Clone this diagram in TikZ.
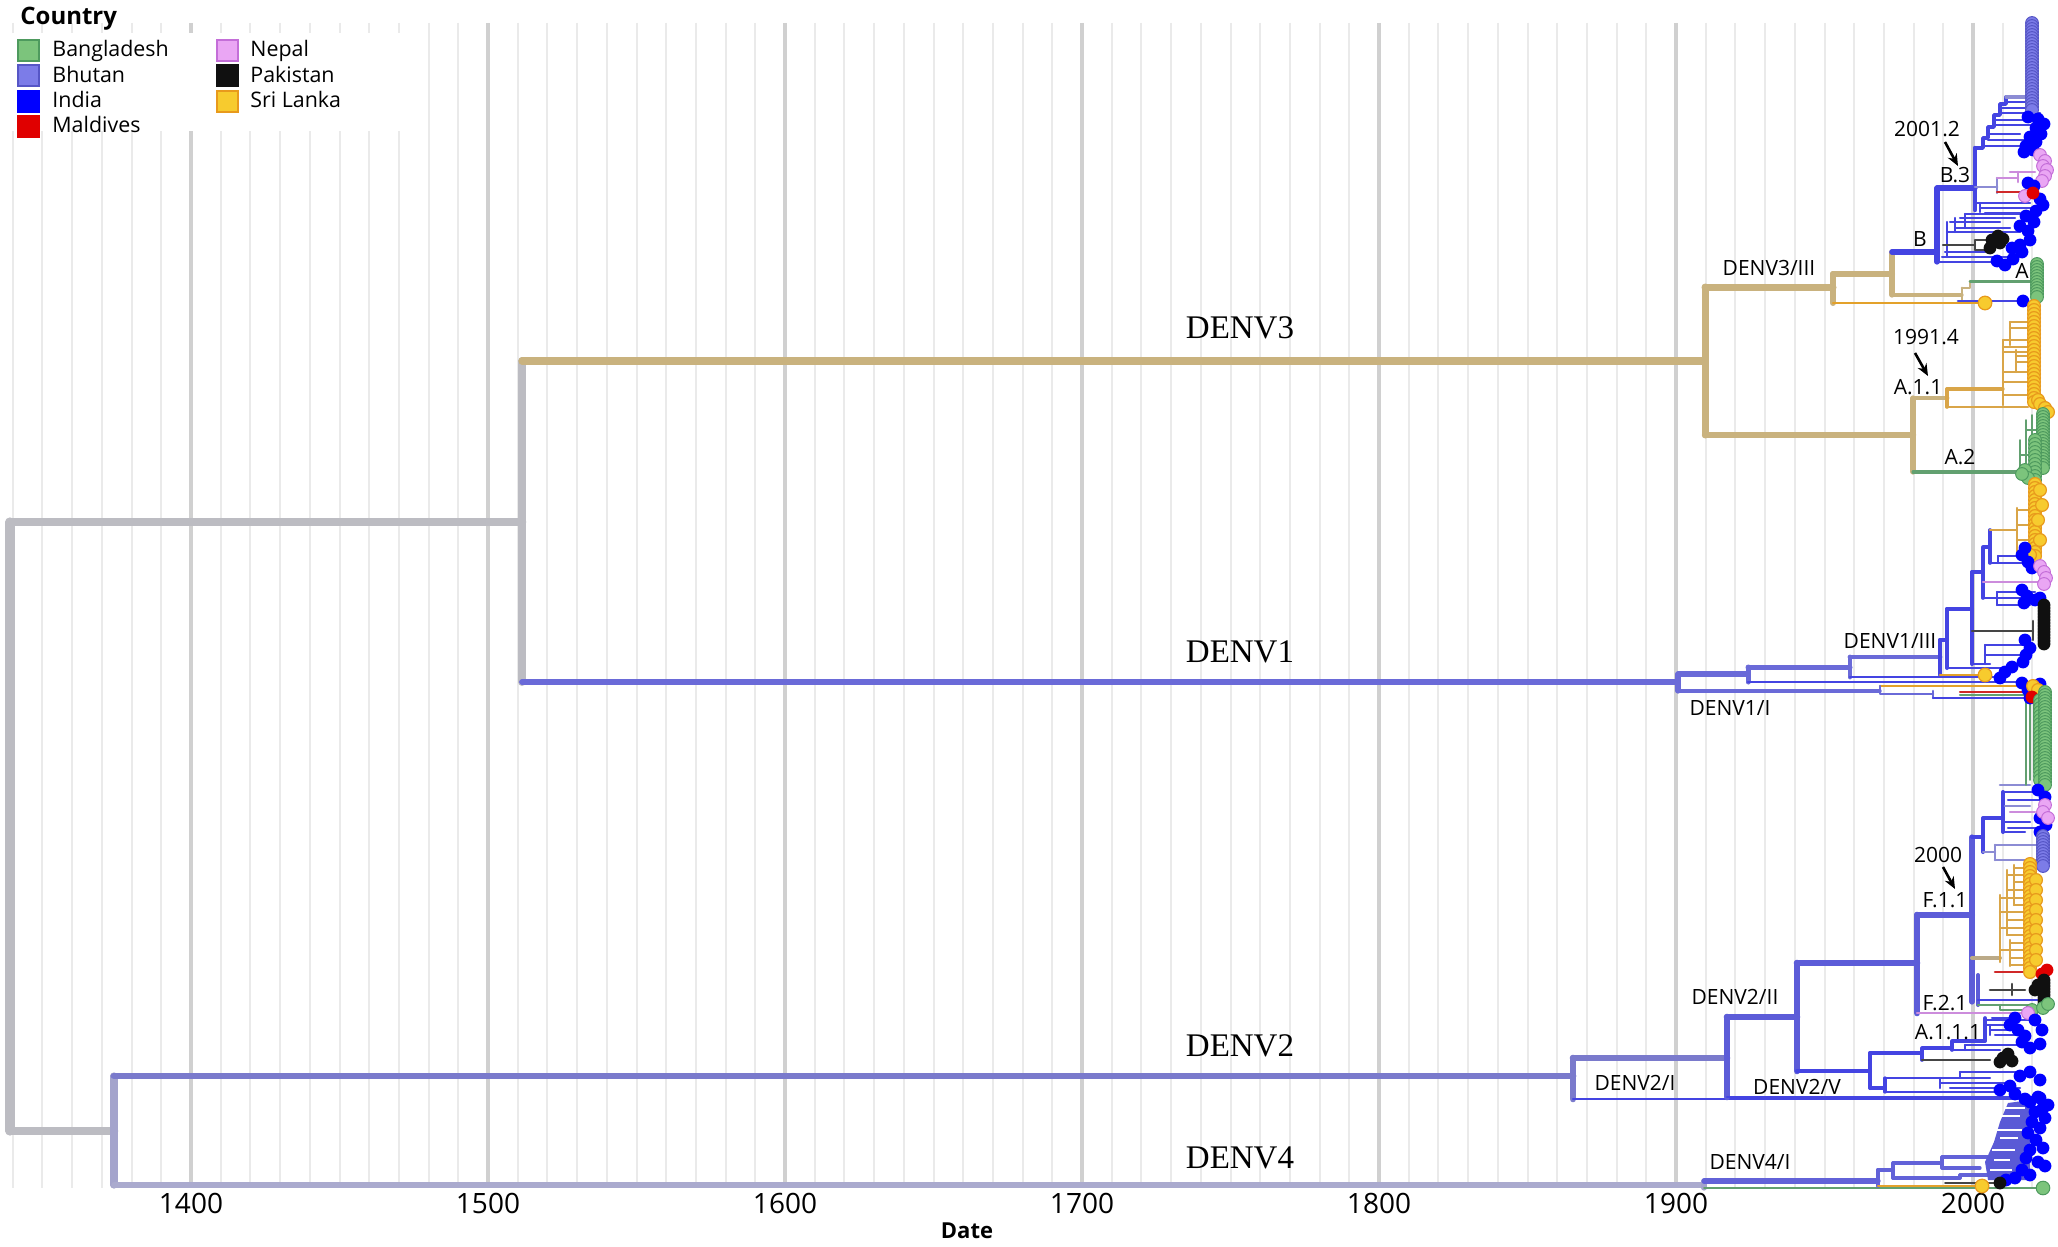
\documentclass[tikz,border=0pt]{standalone}
\usepackage{fontspec}
\setmainfont{Open Sans}
\newfontfamily\serifd{Liberation Serif}
\usetikzlibrary{arrows.meta}
\definecolor{gridmaj}{HTML}{D0D0D0}
\definecolor{gridmin}{HTML}{EAEAEA}
\definecolor{rootgray}{HTML}{BCBCC2}
\definecolor{tanc}{HTML}{C9B27E}
\definecolor{d1c}{HTML}{6A6AD8}
\definecolor{d2c}{HTML}{7A7ACC}
\definecolor{d2t}{HTML}{5C5CD8}
\definecolor{d4c}{HTML}{AAAACE}
\definecolor{d4n}{HTML}{A4A4CC}
\definecolor{d4b}{HTML}{6262D8}
\definecolor{blu}{HTML}{4444E2}
\definecolor{ind}{HTML}{0000FF}
\definecolor{bhu}{HTML}{7C7CE8}
\definecolor{bhuD}{HTML}{5656C6}
\definecolor{lavln}{HTML}{8C8CD4}
\definecolor{ban}{HTML}{7CC47C}
\definecolor{banD}{HTML}{4E9A5E}
\definecolor{grnln}{HTML}{62A070}
\definecolor{nep}{HTML}{EAA6F4}
\definecolor{nepD}{HTML}{C46ED8}
\definecolor{pinkln}{HTML}{CC8CDC}
\definecolor{pak}{HTML}{101010}
\definecolor{pakln}{HTML}{454545}
\definecolor{sri}{HTML}{F7CB2E}
\definecolor{sriD}{HTML}{E89A1C}
\definecolor{sriln}{HTML}{D9A548}
\definecolor{orng}{HTML}{E3A12A}
\definecolor{mal}{HTML}{E00000}
\definecolor{redln}{HTML}{D02828}
\definecolor{tangray}{HTML}{BBAA88}
\definecolor{dense}{HTML}{5A5AD6}
\newcommand\tipset[2]{\foreach \xx/\yy in {#2} {\path[#1] (\xx,\yy) circle[radius=3.2pt];}}
\newcommand\tipcol[3]{\foreach \yy in {#3} {\path[#1] (#2,\yy) circle[radius=3.2pt];}}
\newcommand\hlines[2]{\foreach \aa/\bb/\yy in {#2} {\draw[#1] (\aa,\yy) -- (\bb,\yy);}}
\newcommand\vlines[2]{\foreach \xx/\aa/\bb in {#2} {\draw[#1] (\xx,\aa) -- (\xx,\bb);}}
\begin{document}
\begin{tikzpicture}[x=0.5pt,y=-0.5pt,
  brn/.style={line cap=round,line join=round},
  ti/.style={brn,draw=blu,line width=1.1pt},
  ts/.style={brn,draw=sriln,line width=1.2pt},
  tg/.style={brn,draw=grnln,line width=0.9pt},
  tl/.style={brn,draw=lavln,line width=1.3pt},
  tI/.style={fill=ind},
  tB/.style={fill=bhu,draw=bhuD,line width=0.5pt},
  tG/.style={fill=ban,draw=banD,line width=0.5pt},
  tN/.style={fill=nep,draw=nepD,line width=0.5pt},
  tK/.style={fill=pak},
  tS/.style={fill=sri,draw=sriD,line width=0.6pt},
  tM/.style={fill=mal},
  gmin/.style={draw=gridmin,line width=1pt},
  gmaj/.style={draw=gridmaj,line width=1.6pt},
  sl/.style={font=\fontsize{10.5}{12}\selectfont,inner sep=0pt},
  bigl/.style={font=\serifd\fontsize{16.5}{18}\selectfont,inner sep=0pt},
  axl/.style={font=\fontsize{14}{16}\selectfont,inner sep=0pt},
  arr/.style={-{Stealth[length=6pt,width=5pt]},line width=1.3pt},
  lsq/.style={minimum size=10.5pt,inner sep=0pt,line width=1pt},
  ltx/.style={font=\fontsize{10.7}{12}\selectfont,inner sep=0pt,anchor=base west}]
\useasboundingbox (0,0) rectangle (2058,1247);
\fill[white] (0,0) rectangle (2058,1247);
% ---------- grid ----------
\foreach \yr in {1340,1350,...,2020} {\draw[gmin] ({1676+(\yr-1900)*2.97},23) -- ({1676+(\yr-1900)*2.97},1188);}
\foreach \yr in {1400,1500,...,2000} {\draw[gmaj] ({1676+(\yr-1900)*2.97},23) -- ({1676+(\yr-1900)*2.97},1188);}
\fill[white] (0,33) rectangle (410,131);
\foreach \yr in {1400,1500,...,2000} {\node[axl] (t\yr) at ({1676+(\yr-1900)*2.97},1203) {\yr};}
\node[font=\bfseries\fontsize{11}{13}\selectfont,inner sep=0pt] (date) at (967,1231) {Date};
% ---------- backbone ----------
\coordinate (R) at (10,826);
\coordinate (N13) at (522,522);
\coordinate (N24) at (114,1131);
\coordinate (D3) at (1705,361);
\coordinate (D1) at (1678,682);
\coordinate (D2) at (1573,1076);
\coordinate (D4) at (1704,1185);
\draw[brn,rootgray,line width=4.6pt] (R |- N13) -- (R |- N24);
\draw[brn,rootgray,line width=4.3pt] (R |- N13) -- (N13);
\draw[brn,rootgray,line width=4.3pt] (R |- N24) -- (N24);
\draw[brn,rootgray,line width=4pt] (N13 |- D3) -- (N13 |- D1);
\draw[brn,tanc,line width=3.6pt] (N13 |- D3) -- (D3);
\draw[brn,d1c,line width=2.9pt] (N13 |- D1) -- (D1);
\draw[brn,d4n,line width=3.6pt] (N24 |- D2) -- (N24 |- D4);
\draw[brn,d2c,line width=3.4pt] (N24 |- D2) -- (D2);
\draw[brn,d4c,line width=2.9pt] (N24 |- D4) -- (D4);
% ---------- DENV3 ----------
\coordinate (D3a) at (1833,287);
\coordinate (D3b) at (1913,435);
\coordinate (D3c) at (1892,274);
\coordinate (Y1) at (1985,303);
\coordinate (Bn) at (1937,252);
\coordinate (D3d) at (1962,295);
\coordinate (B3) at (1975,188);
\coordinate (A11) at (1947,398);
\coordinate (A2) at (2020,472);
\draw[brn,tanc,line width=3.5pt] (D3 |- D3a) -- (D3 |- D3b);
\draw[brn,tanc,line width=3.5pt] (D3 |- D3a) -- (D3a);
\draw[brn,tanc,line width=3.2pt] (D3 |- D3b) -- (D3b);
\draw[brn,tanc,line width=3pt] (D3a |- D3c) -- (D3a |- Y1);
\draw[brn,tanc,line width=3pt] (D3a |- D3c) -- (D3c);
\draw[brn,orng,line width=1.3pt] (D3a |- Y1) -- (Y1);
\draw[brn,tanc,line width=2.6pt] (D3c |- Bn) -- (D3c |- D3d);
\draw[brn,blu,line width=2.8pt] (D3c |- Bn) -- (Bn);
\draw[brn,tanc,line width=1.6pt] (D3c |- D3d) -- (D3d);
\draw[brn,tanc,line width=1.4pt] (1962,288) -- (1962,300);
\draw[brn,tanc,line width=1.3pt] (1962,288) -- (1970,288) -- (1970,281);
\draw[brn,grnln,line width=1.5pt] (1970,281) -- (2037,281);
\draw[brn,blu,line width=1.3pt] (1958,301) -- (2023,301);
% B clade
\draw[brn,blu,line width=2.6pt] (Bn |- B3) -- (1937,262);
\draw[brn,blu,line width=2.6pt] (Bn |- B3) -- (B3);
\draw[brn,blu,line width=2.2pt] (1975,148) -- (1975,210);
\draw[brn,blu,line width=1.8pt] (1975,148) -- (1983,148) -- (1983,138) -- (1988,138) -- (1988,127) -- (1994,127) -- (1994,115) -- (2000,115) -- (2000,104) -- (2006,104) -- (2006,97);
\draw[brn,lavln,line width=1.6pt] (2006,97) -- (2030,97);
\hlines{ti}{1983/2025/146, 1988/2030/140, 1988/2020/134, 1994/2035/125, 1994/2028/120, 2000/2040/113, 2000/2030/108, 2006/2025/102}
\draw[brn,lavln,line width=1.4pt] (1975,187) -- (1997,187);
\draw[brn,lavln,line width=1.2pt] (1997,178) -- (1997,193);
\draw[brn,pinkln,line width=1.3pt] (1997,178) -- (2018,178) (2010,172) -- (2035,172) (2018,172) -- (2018,182);
\draw[brn,redln,line width=1.2pt] (1997,192) -- (2030,192);
\hlines{ti}{1975/2030/203, 1980/2035/208, 1985/2020/213, 1937/2000/262, 1942/2010/257, 1945/1985/252, 1947/2020/232, 1955/2010/228, 1950/2000/222, 1960/2015/218, 1965/2025/214}
\vlines{ti}{1947/222/257, 1955/218/232, 1965/214/228, 1980/203/212}
\draw[brn,pakln,line width=1.2pt] (1943,245) -- (1975,245) (1975,240) -- (1975,250) (1975,240) -- (1990,240) (1975,250) -- (1988,250);
% A.1.1 and A.2
\draw[brn,tanc,line width=2.6pt] (D3b |- A11) -- (D3b |- A2);
\draw[brn,tanc,line width=2.4pt] (D3b |- A11) -- (A11);
\draw[brn,grnln,line width=1.6pt] (D3b |- A2) -- (A2);
\draw[brn,sriln,line width=1.8pt] (1947,389) -- (1947,407);
\draw[brn,sriln,line width=1.6pt] (1947,389) -- (2003,389);
\draw[brn,sriln,line width=1.4pt] (1947,407) -- (2028,407);
\vlines{ts}{2003/340/405, 2010/322/345, 2016/350/372}
\hlines{ts}{2010/2030/322, 2010/2032/328, 2003/2030/340, 2003/2030/347, 2003/2030/352, 2016/2034/356, 2016/2032/362, 2003/2032/372, 2003/2030/382, 2003/2030/395}
\vlines{tg}{2020/440/478, 2026/420/470, 2032/415/450}
\hlines{tg}{2020/2035/455, 2026/2040/430}
% ---------- DENV1 ----------
\coordinate (D1a) at (1748,674);
\coordinate (D1I) at (1880,691);
\coordinate (D1b) at (1850,667);
\coordinate (D1III) at (1940,657);
\coordinate (D1c) at (1947,640);
\coordinate (D1d) at (1972,609);
\draw[brn,d1c,line width=2.6pt] (D1 |- D1a) -- (D1 |- D1I);
\draw[brn,d1c,line width=2.6pt] (D1 |- D1a) -- (D1a);
\draw[brn,d1c,line width=1.7pt] (D1 |- D1I) -- (D1I);
\draw[brn,d1c,line width=2.5pt] (D1a |- D1b) -- (1748,682);
\draw[brn,d1c,line width=2.5pt] (D1a |- D1b) -- (D1b);
\draw[ti] (1748,682) -- (2030,682);
\draw[brn,d1c,line width=2.4pt] (D1b |- D1III) -- (1850,677);
\draw[brn,d1c,line width=2.4pt] (D1b |- D1III) -- (D1III);
\draw[ti] (1850,677) -- (2000,677);
\draw[brn,blu,line width=2pt] (D1III |- D1c) -- (1940,675);
\draw[brn,blu,line width=2pt] (D1III |- D1c) -- (D1c);
\draw[brn,orng,line width=1.3pt] (1940,675) -- (1985,675);
\draw[brn,blu,line width=2pt] (D1c |- D1d) -- (1947,668);
\draw[brn,blu,line width=2pt] (D1c |- D1d) -- (D1d);
\draw[ti] (1947,668) -- (2010,668);
\draw[brn,blu,line width=2pt] (1972,572) -- (1972,664);
\draw[brn,blu,line width=1.8pt] (1972,572) -- (1983,572) (1983,547) -- (1983,598) (1983,547) -- (1990,547) (1990,530) -- (1990,563);
\draw[ts] (1990,530) -- (2017,530);
\vlines{ts}{2017/508/552}
\hlines{ts}{2017/2030/510, 2017/2032/525, 2017/2030/540, 2017/2030/552}
\hlines{ti}{1990/2025/563, 1998/2030/556, 1983/2022/598, 1997/2035/592, 1997/2030/605, 1972/1990/664, 1985/2025/645, 1985/2028/655}
\vlines{ti}{1997/592/605, 1985/645/664, 1998/556/563}
\draw[brn,pinkln,line width=1.3pt] (1983,582) -- (2040,582);
\draw[brn,pakln,line width=1.3pt] (1972,631) -- (2033,631) (2033,621) -- (2033,640);
\draw[brn,orng,line width=1.2pt] (1880,686) -- (2025,686);
\draw[brn,d1c,line width=1.3pt] (1880,686) -- (1880,694) -- (1933,694) (1933,691) -- (1933,698);
\draw[brn,redln,line width=1.1pt] (1960,692) -- (2025,692);
\draw[brn,grnln,line width=1.1pt] (1960,695) -- (2025,695);
\draw[ti] (1933,698) -- (2025,698);
% ---------- DENV2 ----------
\coordinate (D2a) at (1727,1058);
\coordinate (D2b) at (1797,1017);
\coordinate (D2c) at (1917,963);
\coordinate (D2d) at (1870,1071);
\coordinate (F11) at (1972,915);
\draw[brn,d2c,line width=3.3pt] (D2 |- D2a) -- (1573,1099);
\draw[brn,d2c,line width=3.3pt] (D2 |- D2a) -- (D2a);
\draw[brn,blu,line width=1.2pt] (1573,1099) -- (2025,1099);
\draw[brn,d2t,line width=3.3pt] (D2a |- D2b) -- (1727,1097);
\draw[brn,d2t,line width=3.3pt] (D2a |- D2b) -- (D2b);
\draw[brn,blu,line width=1.2pt] (1727,1097) -- (2022,1097);
\draw[brn,d2t,line width=3.3pt] (D2b |- D2c) -- (D2b |- D2d);
\draw[brn,d2t,line width=3.3pt] (D2b |- D2c) -- (D2c);
\draw[brn,blu,line width=2pt] (D2b |- D2d) -- (D2d);
\draw[brn,d2t,line width=3.3pt] (D2c |- F11) -- (1917,1013);
\draw[brn,d2t,line width=3pt] (D2c |- F11) -- (F11);
\draw[brn,pinkln,line width=1.2pt] (1917,1013) -- (2028,1013);
\draw[brn,d2t,line width=2.6pt] (1972,837) -- (1972,1002);
\draw[brn,d2t,line width=2pt] (1978,975) -- (1978,1005);
\draw[brn,blu,line width=2pt] (1972,837) -- (1983,837) (1983,818) -- (1983,852) (1983,818) -- (2003,818) (2003,792) -- (2003,832);
\hlines{ti}{2003/2035/792, 2008/2040/800, 2003/2030/822, 2008/2038/828, 2003/2025/832}
\draw[tl] (2000,785) -- (2030,785) (2005,806) -- (2030,806);
\draw[brn,pinkln,line width=1.2pt] (2010,812) -- (2035,812);
\vlines{tg}{2026/700/785, 2030/695/780, 2034/705/770, 2038/715/760}
\draw[tl] (1983,852) -- (1995,852) (1995,845) -- (1995,860);
\hlines{tl}{1995/2040/845, 1995/2040/860}
\draw[brn,tangray,line width=2pt] (1972,958) -- (2000,958);
\vlines{ts}{2000/895/962, 2007/870/935, 2014/865/905, 2010/940/966}
\hlines{ts}{2014/2028/868, 2007/2028/875, 2014/2030/882, 2007/2030/890, 2000/2030/898, 2014/2030/905, 2000/2028/912, 2007/2030/920, 2000/2030/928, 2007/2030/935, 2010/2030/943, 2000/2030/950, 2010/2030/958, 2010/2030/965}
\draw[brn,redln,line width=1.3pt] (1995,972) -- (2035,972);
\draw[brn,pakln,line width=1.3pt] (1990,990) -- (2025,990) (2012,984) -- (2012,995);
\draw[ti] (1978,1000) -- (2045,1000);
\draw[brn,grnln,line width=1.2pt] (1978,1005) -- (2030,1005) (2000,1005) -- (2000,1010) -- (2030,1010);
\draw[brn,blu,line width=2pt] (1870,1053) -- (1870,1088);
\draw[brn,blu,line width=1.8pt] (1870,1053) -- (1922,1053) (1922,1048) -- (1922,1060) (1922,1048) -- (1952,1048) (1952,1041) -- (1952,1050) (1952,1041) -- (1985,1041) (1985,1018) -- (1985,1041);
\hlines{ti}{1985/2010/1025, 1990/2015/1030, 1995/2030/1035, 1952/2000/1050, 1965/2035/1045, 1985/2040/1020, 1992/2020/1018}
\vlines{ti}{1990/1025/1035, 1965/1045/1050}
\draw[brn,pakln,line width=1.2pt] (1922,1060) -- (1990,1060);
\draw[brn,blu,line width=1.6pt] (1870,1088) -- (1885,1088) (1885,1078) -- (1885,1092);
\hlines{ti}{1885/1990/1078, 1940/2010/1083, 1885/2000/1092, 1950/2020/1088, 1960/2030/1072}
\vlines{ti}{1940/1078/1088, 1960/1072/1078}
% ---------- DENV4 ----------
\coordinate (D4a) at (1878,1181);
\coordinate (D4b) at (1893,1170);
\draw[brn,d4n,line width=2.6pt] (D4 |- D4a) -- (1704,1188);
\draw[brn,d4b,line width=2.6pt] (D4 |- D4a) -- (D4a);
\draw[brn,grnln,line width=1pt] (1704,1188) -- (2043,1188);
\draw[brn,d4b,line width=2pt] (D4a |- D4b) -- (1878,1186);
\draw[brn,d4b,line width=2pt] (D4a |- D4b) -- (D4b);
\draw[brn,orng,line width=1.2pt] (1878,1186) -- (1982,1186);
\draw[brn,pakln,line width=1pt] (1945,1183) -- (2000,1183);
\draw[brn,d4b,line width=1.8pt] (1893,1163) -- (1893,1178);
\hlines{brn,draw=d4b,line width=1.6pt}{1893/1942/1163, 1893/1960/1178, 1942/1995/1157, 1942/1980/1168, 1960/2000/1175}
\vlines{brn,draw=d4b,line width=1.6pt}{1942/1157/1168, 1960/1175/1178}
\fill[dense] (1988,1180) -- (1985,1162) -- (1994,1142) -- (2000,1122) -- (2008,1103) -- (2030,1100) -- (2030,1180) -- cycle;
\hlines{draw=white,line width=1pt}{2004/2025/1108, 2000/2020/1116, 1997/2022/1130, 2000/2018/1138, 1992/2015/1150, 1994/2010/1160, 1990/2012/1170}
% ---------- tips ----------
\tipcol{tB}{2032}{23,26,...,110}
\tipset{tI}{2028/117, 2038/119, 2044/124, 2036/128, 2041/134, 2030/137, 2036/142, 2026/146, 2024/152, 2033/150}
\tipset{tN}{2040/155, 2045/161, 2043/166, 2047/170, 2045/176, 2042/181, 2025/196}
\tipset{tI}{2028/183, 2034/186, 2040/199, 2043/205}
\tipset{tM}{2033/193}
\tipset{tK}{1992/240, 1998/236, 2000/243, 1990/248, 2003/239}
\tipset{tI}{2005/265, 1997/261, 2013/259, 2022/252, 2020/245, 2030/240, 2028/231, 2020/226, 2034/222, 2026/216, 2036/211, 2012/248}
\path[tS] (Y1) circle[radius=3.4pt];
\tipset{tI}{2023/301}
\tipcol{tG}{2037}{264,267,...,297}
\tipcol{tS}{2034}{306,310,...,402}
\tipset{tS}{2038/400, 2040/404, 2045/408, 2048/412}
\tipcol{tG}{2043}{414,417,...,470}
\tipcol{tG}{2035}{440,444,...,480}
\tipset{tG}{2025/470, 2028/478, 2022/474}
\tipcol{tS}{2035}{484,488,...,556}
\tipset{tS}{2040/490, 2042/505, 2038/520, 2040/540, 2030/555}
\tipset{tI}{2022/555, 2028/562, 2032/568, 2025/548}
\tipset{tN}{2040/566, 2044/572, 2046/578, 2044/584}
\tipset{tI}{2022/590, 2027/596, 2035/600, 2024/603, 2040/598}
\tipcol{tK}{2044}{605,608,...,645}
\tipset{tI}{2025/640, 2030/648, 2026/655, 2023/662, 2012/667, 2005/672}
\path[tS] (1985,675) circle[radius=3.4pt];
\tipset{tI}{2000/678, 2022/683, 2028/690, 2030/698, 2040/684}
\tipset{tS}{2033/686, 2038/690}
\tipset{tM}{2032/697}
\tipcol{tG}{2040}{700,704,...,780}
\tipcol{tG}{2045}{692,695,...,787}
\tipset{tI}{2038/790, 2045/797, 2040/818, 2046/825, 2040/832}
\tipset{tN}{2045/805, 2043/812, 2048/818}
\tipcol{tB}{2043}{836,839,...,866}
\tipcol{tS}{2030}{864,868,...,972}
\tipcol{tS}{2036}{880,890,...,960}
\tipset{tM}{2042/974, 2047/970}
\tipset{tK}{2035/990, 2038/985}
\tipcol{tK}{2044}{980,983,...,1008}
\tipset{tI}{2048/1004}
\tipset{tG}{2032/1010, 2043/1008, 2048/1004}
\tipset{tN}{2028/1013}
\tipset{tI}{2010/1025, 2018/1030, 2025/1036, 2035/1020, 2040/1044, 2030/1048, 2022/1042, 2015/1018, 2042/1030}
\tipset{tK}{2003/1058, 2008/1054, 2012/1061, 2000/1062}
\tipset{tI}{2000/1090, 2010/1086, 2020/1076, 2040/1080, 2030/1072, 2015/1094, 2025/1099, 2040/1098, 2048/1105}
\tipset{tI}{2030/1102, 2038/1097, 2043/1108, 2035/1112, 2045/1118, 2032/1122, 2040/1128, 2028/1133, 2036/1140, 2043/1148, 2030/1150, 2026/1158, 2038/1162, 2045/1166, 2022/1170, 2030/1175, 2015/1178, 2006/1180}
\tipset{tK}{2000/1183}
\path[tS] (1982,1186) circle[radius=3.4pt];
\path[tG] (2043,1188) circle[radius=3.4pt];
% ---------- labels ----------
\node[bigl] (lD3) at (1240,328) {DENV3};
\node[bigl] (lD1) at (1240,652) {DENV1};
\node[bigl] (lD2) at (1240,1046) {DENV2};
\node[bigl] (lD4) at (1240,1158) {DENV4};
\node[sl] (l3III) at (1769,268) {DENV3/III};
\node[sl] (lB) at (1920,239) {B};
\node[sl] (lB3) at (1955,175) {B.3};
\node[sl] (y2001) at (1927,129) {2001.2};
\node[sl] (lA) at (2022,271) {A};
\node[sl] (y1991) at (1926,337) {1991.4};
\node[sl] (lA11) at (1918,387) {A.1.1};
\node[sl] (lA2) at (1960,457) {A.2};
\node[sl] (l1III) at (1890,641) {DENV1/III};
\node[sl] (l1I) at (1730,708) {DENV1/I};
\node[sl] (y2000) at (1938,855) {2000};
\node[sl] (lF11) at (1945,900) {F.1.1};
\node[sl] (lF21) at (1945,1003) {F.2.1};
\node[sl] (lA111) at (1948,1032) {A.1.1.1};
\node[sl] (l2II) at (1735,997) {DENV2/II};
\node[sl] (l2I) at (1635,1083) {DENV2/I};
\node[sl] (l2V) at (1797,1087) {DENV2/V};
\node[sl] (l4I) at (1750,1162) {DENV4/I};
\coordinate (a1s) at (1945,142); \coordinate (a1e) at (1958,166);
\coordinate (a2s) at (1915,353); \coordinate (a2e) at (1928,376);
\coordinate (a3s) at (1943,867); \coordinate (a3e) at (1955,889);
\draw[arr] (a1s) -- (a1e);
\draw[arr] (a2s) -- (a2e);
\draw[arr] (a3s) -- (a3e);
% ---------- legend ----------
\node[font=\bfseries\fontsize{12}{14}\selectfont,inner sep=0pt,anchor=base west] (ctry) at (20,25) {Country};
\node[lsq,fill=ban,draw=banD] (sq1) at (28.5,50.5) {};
\node[lsq,fill=bhu,draw=bhuD] (sq2) at (28.5,76) {};
\node[lsq,fill=ind,draw=ind] (sq3) at (28.5,102) {};
\node[lsq,fill=mal,draw=mal] (sq4) at (28.5,127) {};
\node[lsq,fill=nep,draw=nepD] (sq5) at (227.5,50.5) {};
\node[lsq,fill=pak,draw=pak] (sq6) at (227.5,76) {};
\node[lsq,fill=sri,draw=sriD] (sq7) at (227.5,102) {};
\node[ltx] (tx1) at (52,57) {Bangladesh};
\node[ltx] (tx2) at (52,83) {Bhutan};
\node[ltx] (tx3) at (52,108) {India};
\node[ltx] (tx4) at (52,133) {Maldives};
\node[ltx] (tx5) at (250,57) {Nepal};
\node[ltx] (tx6) at (250,83) {Pakistan};
\node[ltx] (tx7) at (250,108) {Sri Lanka};
\end{tikzpicture}
\end{document}
